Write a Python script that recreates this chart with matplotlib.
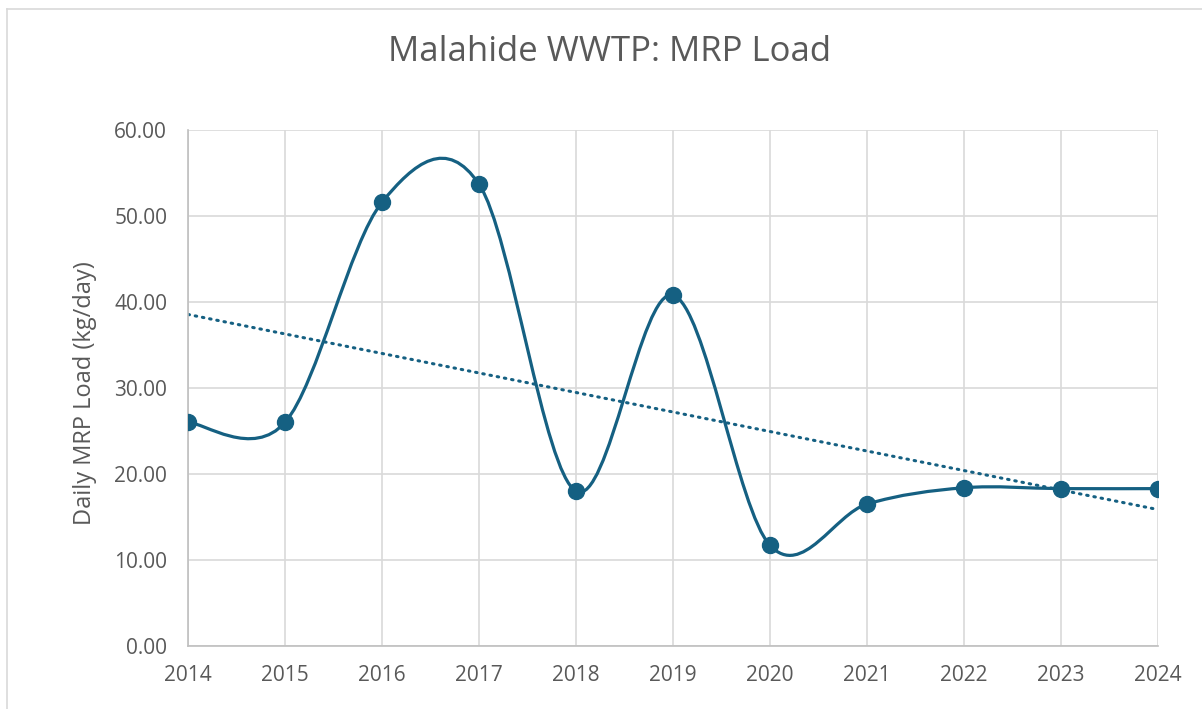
import numpy as np
import matplotlib.pyplot as plt
from matplotlib.path import Path
from matplotlib.patches import PathPatch

years = [2014, 2015, 2016, 2017, 2018, 2019, 2020, 2021, 2022, 2023, 2024]
load = [26.0, 26.0, 51.6, 53.7, 18.0, 40.8, 11.7, 16.5, 18.4, 18.3, 18.3]
title = 'Malahide WWTP: MRP Load'
ylabel = 'Daily MRP Load (kg/day)'

blue = '#156082'
txt = '#595959'
plt.rcParams['font.family'] = ['Open Sans', 'DejaVu Sans']


def smooth_path(x, y):
    # excel-like smoothed line: cubic bezier with catmull-rom control points
    x = np.asarray(x, float)
    y = np.asarray(y, float)
    px = np.concatenate([[x[0]], x, [x[-1]]])
    py = np.concatenate([[y[0]], y, [y[-1]]])
    verts = [(x[0], y[0])]
    codes = [Path.MOVETO]
    for i in range(1, len(x)):
        c1 = (px[i] + (px[i + 1] - px[i - 1]) / 6, py[i] + (py[i + 1] - py[i - 1]) / 6)
        c2 = (px[i + 1] - (px[i + 2] - px[i]) / 6, py[i + 1] - (py[i + 2] - py[i]) / 6)
        verts += [c1, c2, (x[i], y[i])]
        codes += [Path.CURVE4] * 3
    return Path(verts, codes)


fig = plt.figure(figsize=(12.02, 7.09), dpi=100)
ax = fig.add_axes([188 / 1202, 63 / 709, 970 / 1202, 516 / 709])

# chart border (top and left visible)
fig.add_artist(plt.Line2D([7 / 1202, 1], [1 - 9 / 709] * 2, color='#d9d9d9', lw=1.2))
fig.add_artist(plt.Line2D([7 / 1202] * 2, [0, 1 - 9 / 709], color='#d9d9d9', lw=1.2))

ax.add_patch(PathPatch(smooth_path(years, load), fill=False, edgecolor=blue,
                       lw=2.3, capstyle='round', joinstyle='round', zorder=3))
ax.plot(years, load, 'o', color=blue, ms=11.5, zorder=4)

k, b = np.polyfit(years, load, 1)
tx = np.array([years[0], years[-1]])
ax.plot(tx, k * tx + b, color=blue, lw=2.2, linestyle=(0, (0.5, 1.9)),
        dash_capstyle='round', zorder=2)

ax.set_xlim(2014, 2024)
ax.set_ylim(0, 60)
ax.set_xticks(years)
ax.set_yticks(np.arange(0, 61, 10))
ax.set_yticklabels([f'{v:.2f}' for v in np.arange(0, 61, 10)])
ax.grid(True, color='#d9d9d9', lw=1.2)
ax.set_axisbelow(True)
for s in ['top', 'right']:
    ax.spines[s].set_visible(False)
for s in ['left', 'bottom']:
    ax.spines[s].set_color('#bfbfbf')
    ax.spines[s].set_linewidth(1.2)
ax.tick_params(length=0, labelsize=15, labelcolor=txt)
ax.tick_params(axis='x', pad=14)
ax.tick_params(axis='y', pad=15)
ax.set_ylabel(ylabel, fontsize=17, color=txt)
ax.yaxis.set_label_coords(-0.094, 0.49)
fig.text(610 / 1202, 1 - 52 / 709, title, ha='center', va='center', fontsize=25, color=txt)

fig.savefig('out.png', dpi=100)
